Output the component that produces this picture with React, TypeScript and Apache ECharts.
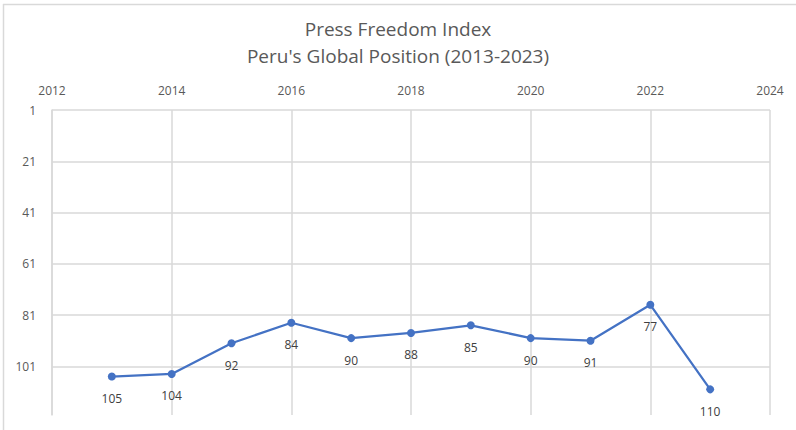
import React, { useEffect, useRef } from "react";
import * as echarts from "echarts";

const years = [2013, 2014, 2015, 2016, 2017, 2018, 2019, 2020, 2021, 2022, 2023];
const positions = [105, 104, 92, 84, 90, 88, 85, 90, 91, 77, 110];
const titleLines = ["Press Freedom Index", "Peru's Global Position (2013-2023)"];

export default function App() {
  const ref = useRef<HTMLDivElement>(null);
  useEffect(() => {
    document.body.style.margin = "0";
    const chart = echarts.init(ref.current!, null, { renderer: "svg" });
    const font = "'Open Sans', 'Noto Sans', sans-serif";
    const grid = "#d9d9d9";
    chart.setOption({
      animation: false,
      backgroundColor: "#ffffff",
      title: {
        text: titleLines.join("\n"),
        left: "center",
        top: 10,
        textStyle: {
          fontFamily: font,
          fontSize: 19,
          fontWeight: "normal",
          color: "#595959",
          lineHeight: 27,
        },
      },
      graphic: [
        { type: "line", shape: { x1: 3, y1: 4.5, x2: 796, y2: 4.5 }, style: { stroke: grid, lineWidth: 1.5 } },
        { type: "line", shape: { x1: 3.5, y1: 4, x2: 3.5, y2: 430 }, style: { stroke: grid, lineWidth: 1.5 } },
      ],
      grid: { left: 52, right: 26, top: 110, bottom: 15, containLabel: false },
      xAxis: {
        type: "value",
        position: "top",
        min: 2012,
        max: 2024,
        interval: 2,
        axisLine: { show: false },
        axisTick: { show: false },
        axisLabel: {
          color: "#595959",
          fontFamily: font,
          fontSize: 12,
          margin: 14,
          formatter: (v: number) => String(v),
        },
        splitLine: { show: true, lineStyle: { color: grid, width: 1.5 } },
      },
      yAxis: {
        type: "value",
        inverse: true,
        min: 1,
        max: 120,
        interval: 20,
        axisLine: { show: true, lineStyle: { color: grid, width: 1.5 } },
        axisTick: { show: false },
        axisLabel: { color: "#595959", fontFamily: font, fontSize: 12, margin: 16, showMaxLabel: false },
        splitLine: {
          show: true,
          lineStyle: { color: [grid, grid, grid, grid, grid, grid, "rgba(0,0,0,0)"], width: 1.5 },
        },
      },
      series: [
        {
          type: "line",
          data: years.map((y, i) => [y, positions[i]]),
          symbol: "circle",
          symbolSize: 8,
          lineStyle: { color: "#4472C4", width: 2.25 },
          itemStyle: { color: "#4472C4" },
          label: {
            show: true,
            position: "bottom",
            distance: 12,
            color: "#404040",
            fontFamily: font,
            fontSize: 12,
            formatter: (p: any) => String(p.value[1]),
          },
        },
      ],
    });
    return () => chart.dispose();
  }, []);
  return <div ref={ref} style={{ width: 796, height: 430 }} />;
}
